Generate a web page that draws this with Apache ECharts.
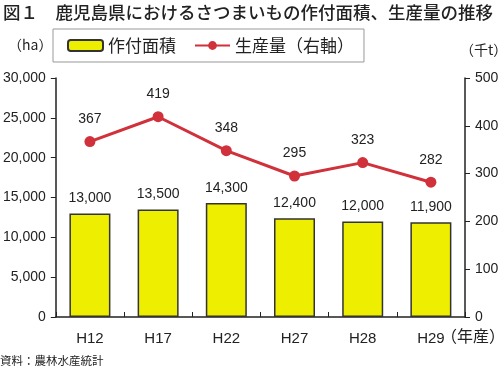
<!DOCTYPE html>
<html><head><meta charset="utf-8">
<script src="https://cdn.jsdelivr.net/npm/echarts@6/dist/echarts.min.js"></script>
<style>html,body{margin:0;padding:0;background:#fff}#c{width:503px;height:372px}</style>
</head><body><div id="c"></div>
<script>
const categories = ['H12','H17','H22','H27','H28','H29'];
const areaHa = [13000, 13500, 14300, 12400, 12000, 11900];
const productionKt = [367, 419, 348, 295, 323, 282];
const leftTicks = [0, 5000, 10000, 15000, 20000, 25000, 30000];
const rightTicks = [0, 100, 200, 300, 400, 500];

const jp = '"Noto Sans CJK JP", sans-serif';
const num = '"Liberation Sans", Arial, sans-serif';
const chart = echarts.init(document.getElementById('c'), null, {renderer:'canvas'});
chart.setOption({
  animation:false,
  backgroundColor:'#fff',
  title:{text:'図１　鹿児島県におけるさつまいもの作付面積、生産量の推移', left:3, top:0, padding:[4,0,4,0],
    textStyle:{fontFamily:jp, fontSize:17.5, fontWeight:500, color:'#222'}},
  legend:{left:53, top:29, height:35, padding:[8,10,8,14], itemGap:18,
    borderColor:'#999', borderWidth:1, itemWidth:35, itemHeight:11,
    textStyle:{fontFamily:jp, fontSize:17, color:'#222'},
    data:['作付面積','生産量（右軸）']},
  grid:{left:52, right:38, top:78, bottom:55, containLabel:false},
  xAxis:{type:'category', data:categories,
    axisLine:{lineStyle:{color:'#222', width:1.5}},
    axisTick:{show:true, inside:true, length:5, lineStyle:{color:'#222'}},
    axisLabel:{fontFamily:num, fontSize:15, color:'#222', margin:14}},
  yAxis:[
    {type:'value', min:0, max:30000, interval:5000,
     axisLine:{show:true, lineStyle:{color:'#222', width:1.5}},
     axisTick:{show:true, length:5, lineStyle:{color:'#222'}},
     splitLine:{show:false},
     axisLabel:{fontFamily:num, fontSize:14, color:'#222', margin:10,
       formatter:v=>v.toLocaleString('en-US')}},
    {type:'value', min:0, max:500, interval:100,
     axisLine:{show:true, lineStyle:{color:'#222', width:1.5}},
     axisTick:{show:true, length:5, lineStyle:{color:'#222'}},
     splitLine:{show:false},
     axisLabel:{fontFamily:num, fontSize:14, color:'#222', margin:10}}
  ],
  series:[
    {name:'作付面積', type:'bar', data:areaHa, barWidth:41, yAxisIndex:0,
     itemStyle:{color:'#EEEE00', borderColor:'#333', borderWidth:1.5},
     label:{show:true, position:'top', distance:8, fontFamily:num, fontSize:14, color:'#222',
       formatter:p=>p.value.toLocaleString('en-US')}},
    {name:'生産量（右軸）', type:'line', data:productionKt, yAxisIndex:1,
     symbol:'circle', symbolSize:11,
     lineStyle:{color:'#D0313A', width:3}, itemStyle:{color:'#D0313A'},
     label:{show:true, position:'top', distance:10, fontFamily:num, fontSize:14, color:'#222'}}
  ],
  graphic:[
    {type:'text', left:8, top:38, style:{text:'（ha）', font:'14px '+jp, fill:'#222'}},
    {type:'text', left:460, top:43, style:{text:'（千t）', font:'14px '+jp, fill:'#222'}},
    {type:'text', left:441, top:328, style:{text:'（年産）', font:'16px '+jp, fill:'#222'}},
    {type:'text', left:0, top:355, style:{text:'資料：農林水産統計', font:'11.5px '+jp, fill:'#222'}}
  ]
});
</script></body></html>
